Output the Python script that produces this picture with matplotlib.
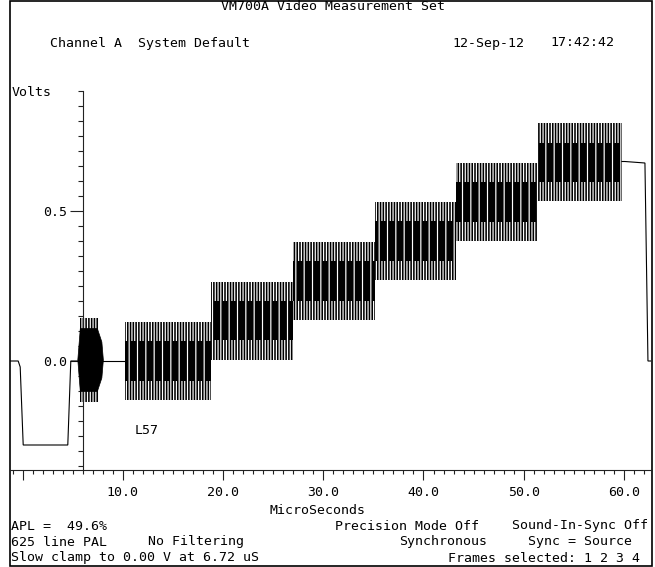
import matplotlib
matplotlib.use('Agg')
import matplotlib.pyplot as plt
from matplotlib.patches import Rectangle
from matplotlib.ticker import MultipleLocator, FixedLocator, FuncFormatter

plt.rcParams['hatch.linewidth'] = 0.85
MONO = 'DejaVu Sans Mono'
FS = 9.5

# ---------------- data ----------------
# plain line parts of the trace: time (µs), level (V)
lead_t = [-1.27, -0.45, -0.25, 0.05, 4.5, 4.8, 5.45]
lead_v = [0.0, 0.0, -0.02, -0.28, -0.28, 0.0, 0.0]
gap_t = [7.9, 10.2]
gap_v = [0.0, 0.0]
tail_t = [59.8, 60.1, 62.1, 62.4, 62.7]
tail_v = [0.665, 0.665, 0.66, 0.0, 0.0]

# colour burst
burst_t = [5.45, 5.7, 7.4, 7.85, 8.0]
burst_core = [0.0, 0.105, 0.105, 0.06, 0.0]
burst_outer_start = 5.75
burst_outer_end = 7.65
burst_outer = 0.14
burst_center = 0.005

# modulated staircase
step_start = [10.2, 18.8, 27.0, 35.2, 43.2, 51.3]
step_end = [18.8, 27.0, 35.2, 43.2, 51.3, 59.8]
step_level = [0.0, 0.135, 0.267, 0.40, 0.53, 0.662]
core_amp = 0.066
outer_amp = 0.13

x_major = [0, 10, 20, 30, 40, 50, 60]
y_major = [0.0, 0.5]

# ---------------- figure ----------------
W, H = 655, 567
fig = plt.figure(figsize=(W / 100, H / 100), dpi=100)

# background axes in pixel coordinates (frame + texts)
bg = fig.add_axes([0, 0, 1, 1])
bg.set_xlim(0, W)
bg.set_ylim(H, 0)
bg.axis('off')
bg.add_patch(Rectangle((10, 1), 642, 565, fill=False, ec='black', lw=1.2))

def t(x, y, s, ha='left'):
    bg.text(x, y, s, ha=ha, va='center', family=MONO, fontsize=FS, color='black')

t(333, 6, 'VM700A Video Measurement Set', ha='center')
t(50, 43, 'Channel A  System Default')
t(452, 43, '12-Sep-12')
t(550, 43, '17:42:42')
t(12, 93, 'Volts')
t(135, 431, 'L57')
t(318, 510, 'MicroSeconds', ha='center')
t(11, 526, 'APL =  49.6%')
t(479, 526, 'Precision Mode Off', ha='right')
t(648, 526, 'Sound-In-Sync Off', ha='right')
t(11, 542, '625 line PAL')
t(148, 542, 'No Filtering')
t(487, 542, 'Synchronous', ha='right')
t(632, 542, 'Sync = Source', ha='right')
t(11, 558, 'Slow clamp to 0.00 V at 6.72 uS')
t(640, 558, 'Frames selected: 1 2 3 4', ha='right')

# main plot axes: x pixels 10..651, y pixels 85..470
ax = fig.add_axes([10 / W, (H - 470) / H, 641 / W, 385 / H])
ax.patch.set_alpha(0)
x0 = (10 - 22.7) / 10.02
ax.set_xlim(x0, x0 + 641 / 10.02)
ax.set_ylim((361 - 470) / 300, (361 - 85) / 300)

for s in ('top', 'right'):
    ax.spines[s].set_visible(False)
ax.spines['left'].set_position(('data', 6.05))
ax.spines['left'].set_bounds((361 - 470) / 300, 0.9)
for s in ('left', 'bottom'):
    ax.spines[s].set_linewidth(0.8)
    ax.spines[s].set_color('#222222')

ax.xaxis.set_major_locator(FixedLocator(x_major))
ax.xaxis.set_minor_locator(MultipleLocator(1))
ax.xaxis.set_major_formatter(FuncFormatter(lambda v, p: '' if v == 0 else f'{v:.1f}'))
ax.yaxis.set_major_locator(FixedLocator(y_major))
ax.yaxis.set_minor_locator(MultipleLocator(0.05))
ax.yaxis.set_major_formatter(FuncFormatter(lambda v, p: f'{v:.1f}'))
ax.tick_params(axis='x', which='major', direction='out', length=7.2, width=0.8, pad=4,
               colors='#222222', labelcolor='black')
ax.tick_params(axis='x', which='minor', direction='out', length=3.0, width=0.8, colors='#222222')
ax.tick_params(axis='y', which='major', direction='out', length=9.4, width=0.8, pad=2,
               colors='#222222', labelcolor='black')
ax.tick_params(axis='y', which='minor', direction='out', length=3.4, width=0.8, colors='#222222')
for lab in ax.get_xticklabels() + ax.get_yticklabels():
    lab.set_family(MONO)
    lab.set_fontsize(FS)

# line parts
for xs, ys in ((lead_t, lead_v), (gap_t, gap_v), (tail_t, tail_v)):
    ax.plot(xs, ys, color='black', lw=0.8, solid_joinstyle='miter', zorder=4)

# burst
ax.bar(burst_outer_start, 2 * burst_outer, bottom=burst_center - burst_outer,
       width=burst_outer_end - burst_outer_start, align='edge',
       facecolor='black', edgecolor='white', hatch='||||||', lw=0, zorder=2)
ax.fill_between(burst_t, [burst_center - c for c in burst_core],
                [burst_center + c for c in burst_core], color='black', lw=0.5, zorder=3)

# staircase: striped outer envelope
ax.bar(step_start, [2 * outer_amp] * len(step_start),
       bottom=[v - outer_amp for v in step_level],
       width=[e - s for s, e in zip(step_start, step_end)], align='edge',
       facecolor='black', edgecolor='white', hatch='||||||', lw=0, zorder=2)
# staircase: solid core
xs, lo, hi = [], [], []
for s, e, v in zip(step_start, step_end, step_level):
    xs += [s, e]
    lo += [v - core_amp, v - core_amp]
    hi += [v + core_amp, v + core_amp]
ax.fill_between(xs, lo, hi, facecolor='black', edgecolor='white', hatch='||', lw=0, zorder=3)

fig.savefig('out.png', dpi=100)
